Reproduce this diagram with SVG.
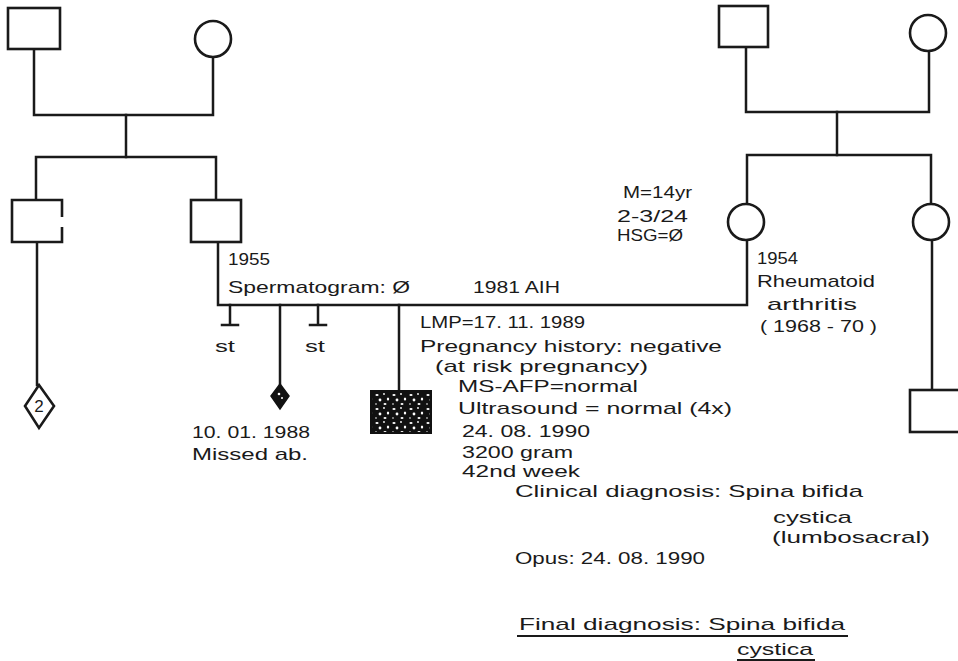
<svg xmlns="http://www.w3.org/2000/svg" width="958" height="661" viewBox="0 0 958 661">
<style>
.ln{fill:none;stroke:#1a1a1a;stroke-width:2.5;stroke-linecap:square}
.nd{fill:#fff;stroke:#1a1a1a;stroke-width:2.6}
.t{font-family:"Liberation Sans","DejaVu Sans",sans-serif;font-size:17px;fill:#1a1a1a}
</style>
<defs>
<pattern id="spk" width="17" height="14" patternUnits="userSpaceOnUse">
<rect width="17" height="14" fill="#111"/>
<ellipse cx="3" cy="3" rx="1.6" ry="1" fill="#fff"/>
<circle cx="10" cy="2" r="0.9" fill="#fff"/>
<ellipse cx="14" cy="7" rx="1.2" ry="1.6" fill="#fff"/>
<circle cx="6" cy="8" r="1.4" fill="#fff"/>
<circle cx="2" cy="12" r="0.8" fill="#fff"/>
<ellipse cx="11" cy="12" rx="1.5" ry="0.9" fill="#fff"/>
</pattern>
</defs>
<rect width="958" height="661" fill="#fff"/>

<g id="connectors">
<path class="ln" d="M34 49V115H213V57"/>
<path class="ln" d="M126 115V157"/>
<path class="ln" d="M36 200V157H216V200"/>
<path class="ln" d="M37 242V385"/>
<path class="ln" d="M218 242V305H747V240"/>
<path class="ln" d="M230 305V325M222 325H238"/>
<path class="ln" d="M318 305V325M310 325H326"/>
<path class="ln" d="M280 305V384"/>
<path class="ln" d="M399 305V391"/>
<path class="ln" d="M746 47V112H929V51"/>
<path class="ln" d="M837 112V155"/>
<path class="ln" d="M747 204V155H931V204"/>
<path class="ln" d="M932 240V390"/>
</g>

<g id="grandfather-paternal"><rect class="nd" x="8" y="8" width="52" height="41"/></g>
<g id="grandmother-paternal"><circle class="nd" cx="213" cy="39" r="18"/></g>
<g id="uncle-paternal"><path class="nd" d="M62 217V200H12V242H62V227"/></g>
<g id="father"><rect class="nd" x="191" y="200" width="50" height="42"/></g>
<g id="siblings-2"><path class="nd" d="M39 385L54 406L39 428L25 406Z"/><text class="t" x="39" y="412" text-anchor="middle" font-size="18">2</text></g>
<g id="stillbirth-1"><text class="t" x="215" y="352" textLength="20" lengthAdjust="spacingAndGlyphs" font-size="19">st</text></g>
<g id="stillbirth-2"><text class="t" x="305" y="352" textLength="20" lengthAdjust="spacingAndGlyphs" font-size="19">st</text></g>
<g id="missed-ab"><path d="M280 384L289 396L280 409L271 396Z" fill="#111" stroke="#111" stroke-width="1.5"/><circle cx="279" cy="394" r="1.3" fill="#fff"/><circle cx="282" cy="398" r="1" fill="#fff"/></g>
<g id="proband"><rect x="371" y="391" width="60" height="42" fill="url(#spk)" stroke="#111" stroke-width="2"/></g>
<g id="grandfather-maternal"><rect class="nd" x="719" y="6" width="49" height="41"/></g>
<g id="grandmother-maternal"><circle class="nd" cx="928" cy="33" r="18"/></g>
<g id="mother"><circle class="nd" cx="746" cy="222" r="18"/></g>
<g id="aunt-maternal"><circle class="nd" cx="931" cy="222" r="18"/></g>
<g id="cousin"><rect class="nd" x="910" y="390" width="52" height="42"/></g>

<g id="labels">
<text class="t" x="228" y="265" textLength="42" lengthAdjust="spacingAndGlyphs">1955</text>
<text class="t" x="228" y="293" textLength="182" lengthAdjust="spacingAndGlyphs">Spermatogram: Ø</text>
<text class="t" x="473" y="293" textLength="87" lengthAdjust="spacingAndGlyphs">1981 AIH</text>
<text class="t" x="623" y="198" textLength="69" lengthAdjust="spacingAndGlyphs">M=14yr</text>
<text class="t" x="617" y="222" textLength="71" lengthAdjust="spacingAndGlyphs">2-3/24</text>
<text class="t" x="617" y="241" textLength="66" lengthAdjust="spacingAndGlyphs">HSG=Ø</text>
<text class="t" x="757" y="264" textLength="41" lengthAdjust="spacingAndGlyphs">1954</text>
<text class="t" x="757" y="287" textLength="118" lengthAdjust="spacingAndGlyphs">Rheumatoid</text>
<text class="t" x="767" y="310" textLength="90" lengthAdjust="spacingAndGlyphs">arthritis</text>
<text class="t" x="760" y="332" textLength="117" lengthAdjust="spacingAndGlyphs">( 1968 - 70 )</text>
<text class="t" x="192" y="438" textLength="118" lengthAdjust="spacingAndGlyphs">10. 01. 1988</text>
<text class="t" x="192" y="460" textLength="116" lengthAdjust="spacingAndGlyphs">Missed ab.</text>
<text class="t" x="420" y="328" textLength="165" lengthAdjust="spacingAndGlyphs">LMP=17. 11. 1989</text>
<text class="t" x="420" y="352" textLength="302" lengthAdjust="spacingAndGlyphs">Pregnancy history: negative</text>
<text class="t" x="435" y="372" textLength="213" lengthAdjust="spacingAndGlyphs">(at risk pregnancy)</text>
<text class="t" x="458" y="392" textLength="180" lengthAdjust="spacingAndGlyphs">MS-AFP=normal</text>
<text class="t" x="458" y="414" textLength="274" lengthAdjust="spacingAndGlyphs">Ultrasound = normal  (4x)</text>
<text class="t" x="462" y="437" textLength="128" lengthAdjust="spacingAndGlyphs">24. 08. 1990</text>
<text class="t" x="462" y="458" textLength="111" lengthAdjust="spacingAndGlyphs">3200 gram</text>
<text class="t" x="462" y="477" textLength="118" lengthAdjust="spacingAndGlyphs">42nd week</text>
<text class="t" x="515" y="497" textLength="348" lengthAdjust="spacingAndGlyphs">Clinical diagnosis: Spina bifida</text>
<text class="t" x="773" y="523" textLength="79" lengthAdjust="spacingAndGlyphs">cystica</text>
<text class="t" x="772" y="543" textLength="158" lengthAdjust="spacingAndGlyphs">(lumbosacral)</text>
<text class="t" x="515" y="564" textLength="190" lengthAdjust="spacingAndGlyphs">Opus: 24. 08. 1990</text>
<text class="t" x="519" y="630" textLength="326" lengthAdjust="spacingAndGlyphs">Final diagnosis: Spina bifida</text>
<line x1="517" y1="636" x2="848" y2="636" stroke="#1a1a1a" stroke-width="1.8"/>
<text class="t" x="737" y="655" textLength="76" lengthAdjust="spacingAndGlyphs">cystica</text>
<line x1="737" y1="660" x2="815" y2="660" stroke="#1a1a1a" stroke-width="1.8"/>
</g>
</svg>
